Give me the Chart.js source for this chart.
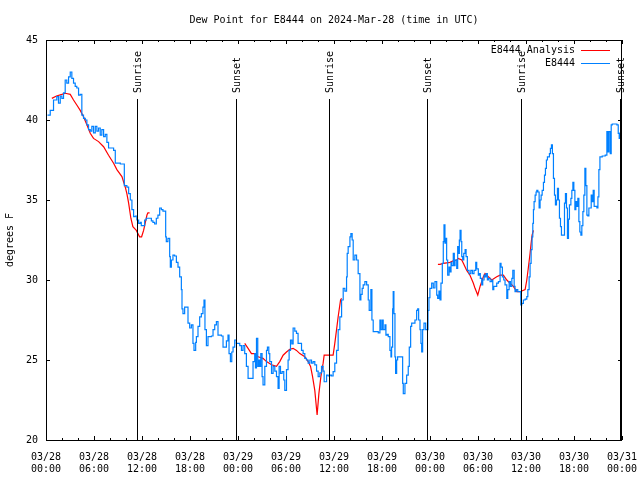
<!DOCTYPE html>
<html>
<head>
<meta charset="utf-8">
<script src="https://cdn.jsdelivr.net/npm/chart.js@4.4.1/dist/chart.umd.min.js"></script>
<style>
  html, body { margin: 0; padding: 0; background: #fff; }
  canvas { display: block; }
</style>
</head>
<body>
<canvas id="dewpoint_plot" width="640" height="480"></canvas>
<script>
'use strict';

const chartTitle = 'Dew Point for E8444 on 2024-Mar-28 (time in UTC)';
const yAxisTitle = 'degrees F';
const analysisLabel = 'E8444 Analysis';
const observedLabel = 'E8444';

// x values are hours since 03/28 00:00 UTC
const tickLabels = [
    ['03/28', '00:00'], ['03/28', '06:00'], ['03/28', '12:00'], ['03/28', '18:00'],
    ['03/29', '00:00'], ['03/29', '06:00'], ['03/29', '12:00'], ['03/29', '18:00'],
    ['03/30', '00:00'], ['03/30', '06:00'], ['03/30', '12:00'], ['03/30', '18:00'],
    ['03/31', '00:00']
];

const sunHours = [11.36, 23.72, 35.4, 47.66, 59.32, 71.69];
const sunLabels = ['Sunrise', 'Sunset', 'Sunrise', 'Sunset', 'Sunrise', 'Sunset'];

const observedHours = [
    0.19, 0.53, 0.94, 1.35, 1.56, 1.78, 1.98, 2.19, 2.40, 2.60,
    2.82, 3.03, 3.23, 3.44, 3.65, 3.85, 4.07, 4.28, 4.48, 4.69,
    4.91, 5.11, 5.32, 5.53, 5.73, 5.94, 6.16, 6.36, 6.57, 6.78,
    6.98, 7.20, 7.41, 7.61, 7.82, 8.04, 8.45, 8.66, 9.29, 9.70,
    9.79, 10.11, 10.33, 10.54, 10.74, 10.95, 11.16, 11.36, 11.58, 11.79,
    11.91, 12.33, 12.54, 12.95, 13.17, 13.37, 13.58, 13.79, 13.99, 14.21,
    14.42, 14.62, 14.83, 14.96, 15.04, 15.24, 15.46, 15.54, 15.67, 15.87,
    16.08, 16.30, 16.50, 16.71, 16.92, 17.00, 17.12, 17.33, 17.55, 17.75,
    17.96, 18.17, 18.37, 18.50, 18.71, 18.80, 19.00, 19.21, 19.42, 19.62,
    19.75, 19.87, 20.05, 20.25, 20.68, 20.88, 21.09, 21.30, 21.50, 21.93,
    22.13, 22.55, 22.75, 22.88, 23.05, 23.22, 23.38, 23.59, 23.80, 24.01,
    24.22, 24.43, 24.63, 24.84, 25.05, 25.26, 25.68, 25.88, 26.09, 26.18,
    26.31, 26.47, 26.60, 26.72, 26.85, 27.01, 27.13, 27.35, 27.56, 27.68,
    27.85, 27.97, 28.19, 28.39, 28.60, 28.81, 29.01, 29.14, 29.31, 29.51,
    29.72, 29.85, 30.06, 30.26, 30.39, 30.56, 30.73, 30.89, 31.10, 31.31,
    31.51, 31.73, 31.94, 32.14, 32.35, 32.56, 32.77, 32.98, 33.19, 33.39,
    33.60, 33.82, 34.02, 34.23, 34.44, 34.64, 34.77, 35.07, 35.27, 35.48,
    35.69, 35.89,
    36.10, 36.32, 36.52, 36.73, 36.95, 37.15, 37.36, 37.57, 37.65, 37.77,
    37.99, 38.11, 38.27, 38.40, 38.61, 38.82, 39.02, 39.24, 39.36, 39.52,
    39.65, 39.86, 40.08, 40.28, 40.40, 40.61, 40.74, 40.90, 41.33, 41.53,
    41.74, 41.86, 42.03, 42.15, 42.37, 42.49, 42.65, 42.78, 42.99, 43.12,
    43.20, 43.33, 43.40, 43.49, 43.62, 43.70, 43.83, 43.95, 44.46, 44.58,
    44.66, 44.87, 45.08, 45.28, 45.41, 45.58, 45.71, 46.12, 46.33, 46.46,
    46.58, 46.75, 46.87, 46.96, 47.08, 47.25, 47.46, 47.58, 47.75, 47.87,
    47.99,
    48.21, 48.41, 48.62, 48.84, 48.96, 49.12, 49.25, 49.37, 49.54, 49.66,
    49.75, 49.87, 49.96, 50.08, 50.21, 50.38, 50.50, 50.63, 50.71, 50.91,
    51.04, 51.13, 51.34, 51.46, 51.54, 51.67, 51.76, 51.88, 51.97, 52.09,
    52.22, 52.39, 52.51, 52.67, 52.88, 53.10, 53.30, 53.50, 53.72, 53.84,
    54.04, 54.17, 54.29, 54.47, 54.59, 54.76, 54.88, 55.01, 55.17, 55.30,
    55.51, 55.72, 55.85, 55.97, 56.13, 56.34, 56.55, 56.76, 56.88, 57.05,
    57.22, 57.38, 57.60, 57.72, 57.89, 58.05, 58.23, 58.35, 58.52, 58.63,
    58.76, 58.97, 59.26, 59.35, 59.47, 59.67, 59.89, 60.10,
    60.23, 60.39, 60.51, 60.64, 60.76, 60.85, 60.93, 61.01, 61.14, 61.26,
    61.35, 61.48, 61.64, 61.76, 61.89, 62.02, 62.18, 62.31, 62.43, 62.55,
    62.68, 62.80, 62.93, 63.05, 63.18, 63.30, 63.43, 63.56, 63.68, 63.81,
    63.93, 64.06, 64.18, 64.31, 64.43, 64.68, 64.81, 64.93, 65.06, 65.18,
    65.31, 65.43, 65.61, 65.73, 65.86, 65.98, 66.11, 66.23, 66.36, 66.48,
    66.61, 66.73, 66.86, 66.98, 67.11, 67.23, 67.36, 67.48, 67.61, 67.73,
    67.86, 68.02, 68.15, 68.27, 68.40, 68.52, 68.69, 68.86, 68.99, 69.11,
    69.24, 69.53, 69.90, 70.03, 70.11, 70.24, 70.36, 70.53, 70.65, 70.78,
    71.15, 71.36, 71.53, 71.65, 71.78, 71.90
];

const observedValues = [
    40.3, 40.6, 41.25, 41.46, 41.06, 41.5, 41.35, 41.7, 42.5, 42.3,
    42.7, 43.0, 42.6, 42.3, 42.1, 42.0, 41.56, 41.6, 40.3, 40.1,
    40.0, 39.7, 39.4, 39.3, 39.6, 39.2, 39.6, 39.3, 39.5, 39.06,
    39.4, 38.96, 39.1, 38.6, 38.25, 38.25, 38.1, 37.3, 37.25, 37.25,
    35.9, 35.8, 35.4, 35.0, 34.4, 33.96, 34.0, 33.75, 33.54, 33.6,
    33.4, 33.75, 33.86, 33.86, 33.7, 33.6, 33.5, 33.86, 34.06, 34.5,
    34.4, 34.3, 34.3, 32.7, 32.4, 32.6, 31.46, 30.8, 31.25, 31.56,
    31.5, 31.1, 30.8, 30.2, 29.4, 28.2, 27.9, 28.3, 28.3, 27.3,
    27.0, 27.2, 26.04, 25.6, 26.1, 26.46, 27.1, 27.7, 27.9, 28.3,
    28.75, 26.9, 25.9, 26.46, 26.5, 26.9, 27.2, 27.4, 26.56, 26.5,
    25.8, 26.2, 26.56, 25.4, 24.9, 25.5, 25.8, 26.25, 26.04, 26.04,
    25.9, 25.6, 25.9, 25.4, 24.6, 23.85, 23.85, 24.9, 25.4, 24.5,
    26.35, 24.6, 25.0, 24.6, 25.4, 23.96, 23.44, 24.6, 25.6, 25.8,
    25.4, 24.9, 24.17, 24.6, 24.3, 23.96, 23.23, 24.6, 24.17, 24.27,
    23.75, 23.1, 24.4, 25.0, 25.6, 26.25, 26.0, 27.0, 26.8, 26.67,
    26.04, 26.04, 25.6, 25.4, 25.1, 25.0, 24.8, 25.0, 24.8, 24.9,
    24.7, 24.3, 23.96, 24.2, 24.6, 24.3, 23.64, 24.06, 24.0, 24.06,
    24.0, 24.27,
    24.8, 25.6, 26.9, 27.7, 28.75, 29.48, 29.3, 30.2, 31.67, 32.08,
    32.7, 32.9, 32.5, 31.25, 31.56, 31.25, 30.4, 28.75, 29.1, 29.48,
    29.7, 29.9, 29.7, 28.75, 28.1, 29.4, 27.5, 26.77, 26.77, 26.7,
    27.5, 26.9, 27.5, 26.9, 27.2, 26.56, 26.6, 26.46, 25.6, 25.2,
    25.8, 28.2, 29.27, 27.9, 25.2, 24.17, 25.0, 25.2, 25.2, 23.54,
    22.9, 23.54, 24.06, 24.6, 25.8, 27.1, 27.3, 27.5, 28.1, 28.2,
    27.5, 26.9, 26.04, 25.5, 26.9, 27.3, 26.9, 26.9, 28.1, 28.9,
    29.48,
    29.8, 29.5, 29.9, 29.06, 28.85, 29.3, 28.75, 29.8, 31.04, 32.4,
    33.44, 32.3, 32.6, 31.25, 30.3, 30.8, 30.5, 31.1, 30.9, 31.67,
    30.9, 31.25, 30.73, 32.08, 31.67, 32.5, 33.1, 32.4, 31.46, 31.25,
    31.67, 31.9, 31.46, 30.6, 30.4, 30.6, 30.4, 30.6, 31.1, 30.7,
    30.3, 30.4, 30.1, 29.7, 30.0, 30.3, 30.2, 30.4, 30.0, 30.1,
    29.9, 30.0, 29.4, 29.6, 29.6, 29.8, 29.9, 31.04, 30.8, 30.2,
    30.0, 29.7, 28.85, 29.4, 29.9, 29.6, 30.1, 30.6, 29.6, 29.27,
    29.4, 29.27, 29.27, 28.44, 28.54, 28.75, 28.8, 28.96,
    29.4, 30.2, 31.04, 31.9, 32.7, 33.54, 34.4, 34.9, 35.3, 35.5,
    35.6, 35.5, 34.5, 35.0, 35.3, 35.6, 36.1, 36.56, 36.98, 37.5,
    37.7, 37.7, 37.9, 38.23, 38.44, 37.9, 36.35, 35.3, 34.7, 35.0,
    35.73, 35.0, 33.86, 33.33, 32.8, 32.8, 34.8, 35.4, 34.5, 32.6,
    33.8, 34.7, 35.1, 35.6, 36.1, 35.6, 34.4, 34.9, 34.6, 35.1,
    33.65, 33.0, 32.8, 33.4, 34.27, 35.3, 36.98, 35.9, 34.06, 34.0,
    34.5, 34.5, 35.3, 34.9, 35.6, 34.6, 34.6, 34.5, 35.2, 36.9,
    37.7, 37.75, 37.8, 37.8, 39.27, 38.0, 39.27, 37.9, 39.7, 39.75,
    39.75, 39.7, 39.17, 38.85, 39.2, 38.75
];

// null marks the gaps between analysis runs
const analysisHours = [
    0.73, 1.31, 1.98, 2.40, 3.03, 3.44, 3.85, 4.28, 4.69, 5.11,
    5.53, 5.94, 6.57, 7.20, 7.82, 8.45, 8.86, 9.49, 9.91, 10.11,
    10.33, 10.61, 10.86, 11.29, 11.70, 11.95, 12.20, 12.42, 12.62, 12.74,
    12.95,
    18.0,
    24.84, 25.26, 25.68, 26.09, 26.51, 27.13, 27.56, 28.19, 28.81, 29.22,
    29.64, 30.06, 30.48, 30.89, 31.31, 31.73, 32.35, 32.77, 33.07, 33.32,
    33.60, 33.89, 34.11, 34.36, 34.64, 34.77, 35.89, 36.10, 36.32, 36.52,
    36.82, 36.95,
    42.0,
    48.99, 49.25, 49.66, 50.50, 50.91, 51.34, 51.54, 51.97, 52.17, 52.59,
    53.00, 53.42, 53.63, 53.97, 54.26, 54.67, 54.88, 55.29, 55.72, 56.34,
    56.76, 57.17, 57.60, 58.01, 58.42, 58.85, 59.26, 59.89, 60.10, 60.30,
    60.51, 60.64, 60.76, 60.93
];

const analysisValues = [
    41.35, 41.5, 41.6, 41.67, 41.6, 41.25, 40.94, 40.6, 40.2, 39.7,
    39.17, 38.85, 38.65, 38.33, 37.8, 37.3, 36.9, 36.46, 35.8, 35.4,
    34.8, 33.86, 33.33, 33.1, 32.7, 32.7, 33.1, 33.6, 34.06, 34.2,
    34.2,
    null,
    26.04, 25.73, 25.4, 25.4, 25.2, 25.1, 24.9, 24.7, 24.6, 24.9,
    25.3, 25.5, 25.67, 25.73, 25.6, 25.4, 25.2, 24.9, 24.6, 23.96,
    23.1, 21.56, 22.9, 23.96, 24.8, 25.3, 25.3, 26.04, 26.9, 27.7,
    28.75, 28.85,
    null,
    30.98, 30.98, 31.04, 31.1, 31.2, 31.25, 31.35, 31.25, 31.04, 30.6,
    30.3, 29.8, 29.48, 29.06, 29.6, 30.2, 30.4, 30.2, 30.0, 30.2,
    30.3, 30.3, 30.0, 29.8, 29.6, 29.27, 29.27, 29.4, 30.0, 30.8,
    31.67, 32.3, 32.8, 33.1
];

const observedColor = '#0080ff';
const analysisColor = '#ff0000';
const fontFamily = "'DejaVu Sans Mono', monospace";

Chart.defaults.font.family = fontFamily;
Chart.defaults.font.size = 10;
Chart.defaults.color = '#000';

function toPoints(xs, ys) {
    return xs.map((x, i) => ({ x: x, y: ys[i] }));
}

// gnuplot style frame, inward ticks, sun event lines, legend and title
const gnuplotDecor = {
    id: 'gnuplotDecor',
    afterDatasetsDraw(chart) {
        const ctx = chart.ctx;
        const area = chart.chartArea;
        const xs = chart.scales.x;
        const ys = chart.scales.y;

        ctx.save();
        ctx.strokeStyle = '#000';
        ctx.fillStyle = '#000';
        ctx.lineWidth = 1;

        // sunrise / sunset markers
        ctx.font = '10px ' + fontFamily;
        sunHours.forEach((h, i) => {
            const px = Math.round(xs.getPixelForValue(h)) + 0.5;
            ctx.beginPath();
            ctx.moveTo(px, area.top + 59);
            ctx.lineTo(px, area.bottom);
            ctx.stroke();

            ctx.save();
            ctx.translate(px + 1, area.top + 53);
            ctx.rotate(-Math.PI / 2);
            ctx.textAlign = 'left';
            ctx.textBaseline = 'middle';
            ctx.fillText(sunLabels[i], 0, 0);
            ctx.restore();
        });

        // frame
        ctx.strokeRect(area.left + 0.5, area.top + 0.5,
            area.right - area.left - 1, area.bottom - area.top);

        // x ticks, every 2 hours, longer every 6
        ctx.beginPath();
        for (let h = 0; h <= 72; h += 2) {
            const px = Math.round(xs.getPixelForValue(h)) + 0.5;
            const len = (h % 6 === 0) ? 4 : 2;
            ctx.moveTo(px, area.bottom);
            ctx.lineTo(px, area.bottom - len);
            ctx.moveTo(px, area.top);
            ctx.lineTo(px, area.top + len);
        }
        // y ticks
        ys.ticks.forEach(t => {
            const py = Math.round(ys.getPixelForValue(t.value)) + 0.5;
            ctx.moveTo(area.left, py);
            ctx.lineTo(area.left + 4, py);
            ctx.moveTo(area.right, py);
            ctx.lineTo(area.right - 4, py);
        });
        ctx.stroke();

        // legend, text on the left of the sample line
        const legendRows = [
            [analysisLabel, analysisColor],
            [observedLabel, observedColor]
        ];
        ctx.textAlign = 'right';
        ctx.textBaseline = 'middle';
        legendRows.forEach((row, i) => {
            const ly = area.top + 10 + i * 13;
            ctx.fillStyle = '#000';
            ctx.fillText(row[0], area.right - 47, ly);
            ctx.strokeStyle = row[1];
            ctx.beginPath();
            ctx.moveTo(area.right - 41, ly + 0.5);
            ctx.lineTo(area.right - 12, ly + 0.5);
            ctx.stroke();
        });

        // title
        ctx.fillStyle = '#000';
        ctx.textAlign = 'center';
        ctx.fillText(chartTitle, (area.left + area.right) / 2, 20);
        ctx.restore();
    }
};

const ctx = document.getElementById('dewpoint_plot').getContext('2d');

new Chart(ctx, {
    type: 'line',
    data: {
        datasets: [
            {
                label: analysisLabel,
                data: toPoints(analysisHours, analysisValues),
                borderColor: analysisColor,
                borderWidth: 1.2,
                pointRadius: 0,
                fill: false,
                tension: 0,
                spanGaps: false,
                order: 2
            },
            {
                label: observedLabel,
                data: toPoints(observedHours, observedValues),
                borderColor: observedColor,
                borderWidth: 1.2,
                pointRadius: 0,
                fill: false,
                stepped: true,
                order: 1
            }
        ]
    },
    options: {
        responsive: false,
        animation: false,
        layout: {
            padding: { top: 40, right: 18, left: 0, bottom: 0 }
        },
        plugins: {
            legend: { display: false },
            title: { display: false },
            tooltip: { enabled: false }
        },
        scales: {
            x: {
                type: 'linear',
                min: 0,
                max: 72,
                grid: { display: false, drawTicks: false },
                border: { display: false },
                ticks: {
                    stepSize: 6,
                    autoSkip: false,
                    maxRotation: 0,
                    padding: 11,
                    font: { size: 10, lineHeight: 1.25 },
                    callback: (value) => tickLabels[Math.round(value / 6)]
                },
                afterFit: (scale) => {
                    scale.height = 40;
                    scale.paddingLeft = 0;
                    scale.paddingRight = 0;
                }
            },
            y: {
                min: 20,
                max: 45,
                grid: { display: false, drawTicks: false },
                border: { display: false },
                ticks: {
                    stepSize: 5,
                    padding: 8
                },
                title: {
                    display: true,
                    text: yAxisTitle,
                    font: { size: 10 }
                },
                afterFit: (scale) => {
                    scale.width = 46;
                    scale.paddingTop = 0;
                    scale.paddingBottom = 0;
                }
            }
        }
    },
    plugins: [gnuplotDecor]
});
</script>
</body>
</html>
